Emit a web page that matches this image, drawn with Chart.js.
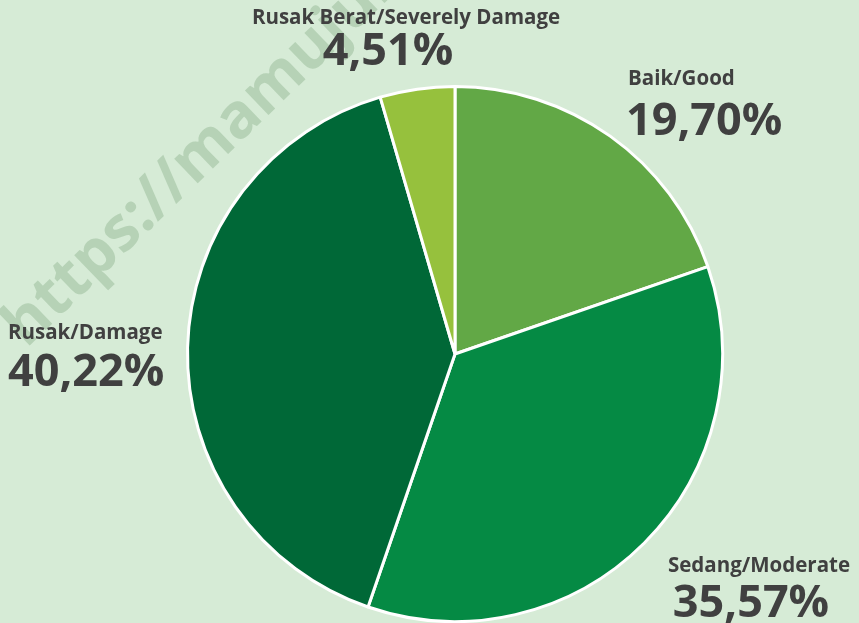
<!DOCTYPE html>
<html>
<head>
<meta charset="utf-8">
<script src="https://cdn.jsdelivr.net/npm/chart.js@4"></script>
<style>
  html, body { margin: 0; padding: 0; background: #d6ebd6; }
  #wrap { width: 859px; height: 623px; position: relative; }
</style>
</head>
<body>
<div id="wrap"><canvas id="pieChart" width="859" height="623"></canvas></div>
<script>
// data
const categories = ['Baik/Good', 'Sedang/Moderate', 'Rusak/Damage', 'Rusak Berat/Severely Damage'];
const percentValues = [19.70, 35.57, 40.22, 4.51];
const sliceColors = ['#62a846', '#058a44', '#006837', '#96c13d'];

// where each label block sits (name line and value line)
const labelLayout = [
  { xName: 628, xValue: 626, align: 'left', yName: 79, yValue: 122 },
  { xName: 759, xValue: 751, align: 'center', yName: 566, yValue: 604 },
  { xName: 8, xValue: 8, align: 'left', yName: 333, yValue: 373 },
  { xName: 406, xValue: 388, align: 'center', yName: 18, yValue: 52 },
];

function formatPct(v) {
  return v.toFixed(2).replace('.', ',') + '%';
}

const backgroundPlugin = {
  id: 'bgWatermark',
  beforeDraw(chart) {
    const ctx = chart.ctx;
    ctx.save();
    ctx.fillStyle = '#d6ebd6';
    ctx.fillRect(0, 0, chart.width, chart.height);
    // faint watermark behind the pie
    ctx.translate(14, 336);
    ctx.rotate(-44 * Math.PI / 180);
    ctx.font = 'bold 62px "Open Sans"';
    ctx.fillStyle = 'rgba(150, 185, 150, 0.5)';
    ctx.textBaseline = 'middle';
    ctx.fillText('https://mamujukab.bps.go.id', 0, 0);
    ctx.restore();
  }
};

const labelPlugin = {
  id: 'sliceLabels',
  afterDraw(chart) {
    const ctx = chart.ctx;
    ctx.save();
    ctx.fillStyle = '#404040';
    ctx.textBaseline = 'middle';
    categories.forEach((name, i) => {
      const pos = labelLayout[i];
      ctx.textAlign = pos.align;
      ctx.font = 'bold 20.5px "Open Sans"';
      ctx.fillText(name, pos.xName, pos.yName);
      ctx.font = 'bold 45px "Open Sans"';
      ctx.fillText(formatPct(percentValues[i]), pos.xValue, pos.yValue);
    });
    ctx.restore();
  }
};

const ctx = document.getElementById('pieChart').getContext('2d');
const myPieChart = new Chart(ctx, {
  type: 'pie',
  data: {
    labels: categories,
    datasets: [{
      data: percentValues,
      backgroundColor: sliceColors,
      borderColor: '#ffffff',
      borderWidth: 3,
    }],
  },
  options: {
    responsive: false,
    animation: false,
    rotation: 0,
    layout: {
      padding: { left: 186, right: 135, top: 85, bottom: 0 }
    },
    plugins: {
      legend: { display: false },
      tooltip: { enabled: false },
    }
  },
  plugins: [backgroundPlugin, labelPlugin],
});
</script>
</body>
</html>
